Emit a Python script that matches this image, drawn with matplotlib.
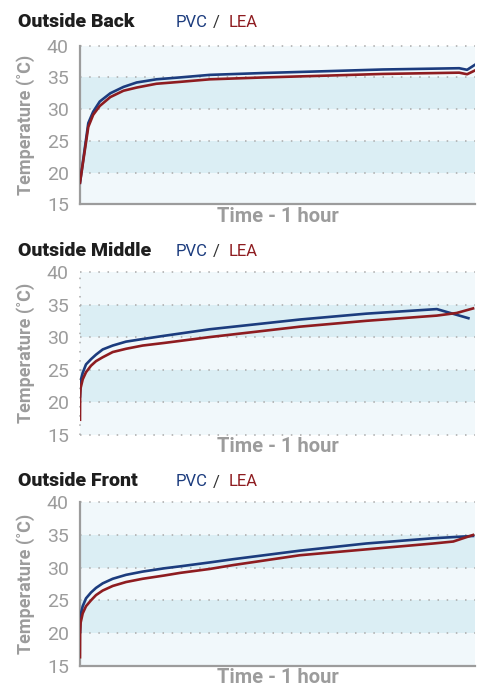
import matplotlib
matplotlib.use('Agg')
import matplotlib.pyplot as plt

plt.rcParams['font.family'] = ['Roboto', 'DejaVu Sans']

titles = ['Outside Back', 'Outside Middle', 'Outside Front']

# time in minutes, temperatures in deg C
back_t = [0, 1.26, 2.0, 3.0, 4.6, 6.6, 8.6, 11.6, 15.2, 19.7, 28, 38, 46, 57.6, 58.8, 60]
back_pvc = [18.4, 27.8, 29.6, 31.2, 32.5, 33.5, 34.2, 34.7, 35.0, 35.4, 35.7, 36.0, 36.25, 36.45, 36.2, 37.0]
back_lea = [18.4, 27.2, 29.1, 30.5, 31.9, 32.9, 33.4, 34.0, 34.3, 34.7, 35.0, 35.3, 35.55, 35.75, 35.5, 36.1]

mid_pvc_t = [0, 0.03, 0.15, 0.41, 0.91, 1.67, 2.43, 3.45, 4.97, 6.99, 9.52, 12.8, 19.7, 33.4, 43.5, 54.2, 59.0]
mid_pvc = [20.9, 22.4, 23.5, 24.5, 25.8, 26.6, 27.3, 28.1, 28.7, 29.3, 29.7, 30.2, 31.2, 32.7, 33.6, 34.3, 32.9]
mid_lea_t = [0, 0.02, 0.1, 0.41, 0.91, 1.67, 2.43, 3.45, 4.97, 6.99, 9.52, 12.8, 19.7, 33.4, 43.5, 54.2, 57.2, 59.7]
mid_lea = [17.3, 20.9, 22.2, 23.5, 24.6, 25.6, 26.3, 26.9, 27.7, 28.2, 28.7, 29.1, 30.0, 31.6, 32.5, 33.3, 33.7, 34.4]

front_pvc_t = [0, 0.03, 0.15, 0.41, 0.91, 1.67, 2.43, 3.45, 4.97, 6.99, 9.52, 12.8, 15.2, 19.7, 23.3, 33.4, 43.5, 53.7, 59.7]
front_pvc = [20.2, 21.8, 23.0, 24.1, 25.3, 26.2, 26.9, 27.6, 28.3, 28.9, 29.4, 29.9, 30.2, 30.8, 31.3, 32.6, 33.7, 34.5, 34.85]
front_lea_t = [0, 0.02, 0.1, 0.41, 0.91, 1.67, 2.43, 3.45, 4.97, 6.99, 9.52, 12.8, 15.2, 19.7, 23.3, 33.4, 43.5, 53.7, 56.7, 58.2, 59.7]
front_lea = [16.3, 20.0, 21.6, 23.0, 24.1, 25.0, 25.8, 26.5, 27.2, 27.8, 28.3, 28.8, 29.2, 29.8, 30.4, 31.9, 32.8, 33.7, 34.0, 34.5, 35.0]

series = [
    (back_t, back_pvc, back_t, back_lea),
    (mid_pvc_t, mid_pvc, mid_lea_t, mid_lea),
    (front_pvc_t, front_pvc, front_lea_t, front_lea),
]

yticks = [15, 20, 25, 30, 35, 40]

PVC_C = '#1c3c7e'
LEA_C = '#8e1c20'
GREY = '#9c9c9c'
LIGHT = '#f1f8fb'
DARK = '#dbeef4'

W, H = 483, 686
# (top, bottom) of each plot area in pixels, title baseline
boxes = [(45.7, 204.3, 26.7), (272.0, 434.7, 256.0), (502.3, 665.7, 486.5)]

fig = plt.figure(figsize=(W / 100, H / 100), dpi=100)

for i in range(3):
    top, bot, base = boxes[i]
    ax = fig.add_axes([80 / W, 1 - bot / H, 395 / W, (bot - top) / H])
    ax.set_xlim(0, 60)
    ax.set_ylim(15, 40)
    ax.set_facecolor(LIGHT)
    ax.axhspan(30, 35, color=DARK, lw=0, zorder=0)
    ax.axhspan(20, 25, color=DARK, lw=0, zorder=0)
    grid_y = yticks[1:] if i != 1 else yticks
    for y in grid_y:
        ax.axhline(y, color='#a9a9a9', lw=1.1, ls=(0, (1, 5)), zorder=1, clip_on=False)

    t1, v1, t2, v2 = series[i]
    ax.plot(t1, v1, color=PVC_C, lw=1.9, zorder=3, solid_joinstyle='round')
    ax.plot(t2, v2, color=LEA_C, lw=1.9, zorder=3, solid_joinstyle='round')

    for s in ['top', 'right']:
        ax.spines[s].set_visible(False)
    if i == 1:
        ax.spines['bottom'].set_visible(False)
        ax.spines['left'].set_visible(False)
        ax.axvline(0, color='#a9a9a9', lw=1.1, ls=(0, (1, 5)), zorder=1, clip_on=False)
    else:
        for s in ['left', 'bottom']:
            ax.spines[s].set_color(GREY)
            ax.spines[s].set_linewidth(1.6)

    ax.set_xticks([])
    ax.set_yticks(yticks)
    ax.tick_params(axis='y', length=0, pad=8, labelsize=14, labelcolor=GREY)
    ax.set_ylabel('Temperature (˚C)', fontsize=13, fontweight='bold', color=GREY)
    ax.yaxis.set_label_coords(-0.113, 0.5)
    ax.set_xlabel('Time - 1 hour', fontsize=14.5, fontweight='bold', color=GREY, labelpad=2)

    yb = 1 - base / H
    fig.text(18 / W, yb, titles[i], fontsize=14, fontweight='black', color='#1e1e1e', va='baseline')
    fig.text(175.5 / W, yb, 'PVC', fontsize=12, color=PVC_C, va='baseline')
    fig.text(213 / W, yb, '/', fontsize=12, color='#333333', va='baseline')
    fig.text(228.5 / W, yb, 'LEA', fontsize=12, color=LEA_C, va='baseline')

fig.savefig('out.png', dpi=100)
